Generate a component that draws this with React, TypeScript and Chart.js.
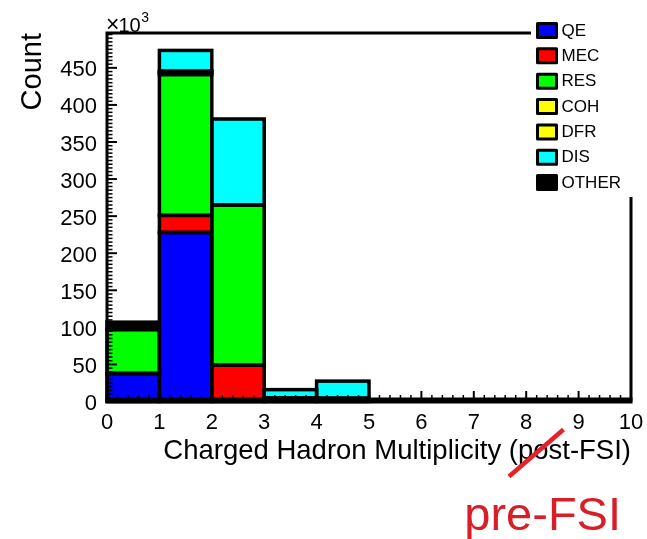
import React, { useEffect, useRef } from 'react';
import { Chart, registerables } from 'chart.js';

Chart.register(...registerables);

// ---- data (counts in units of 10^3) ----
const binCenters = [0.5, 1.5, 2.5, 3.5, 4.5, 5.5, 6.5, 7.5, 8.5, 9.5];
const seriesNames = ['QE', 'MEC', 'RES', 'COH', 'DFR', 'DIS', 'OTHER'];
const seriesColors = ['#0000ff', '#ff0000', '#00ff00', '#ffff00', '#ffff00', '#00ffff', '#000000'];
const qe = [37, 228, 1, 1, 0.5, 0, 0, 0, 0, 0];
const mec = [1, 23, 48, 0, 0, 0, 0, 0, 0, 0];
const res = [59, 190, 216, 4, 4, 0, 0, 0, 0, 0];
const coh = [0, 3, 0, 0, 0, 0, 0, 0, 0, 0];
const dfr = [0, 1.5, 0, 0, 0, 0, 0, 0, 0, 0];
const dis = [0, 28, 116, 11, 23, 0.3, 0, 0, 0, 0];
const other = [10, 0, 0, 0, 0, 0, 0, 0, 0, 0];
const seriesValues = [qe, mec, res, coh, dfr, dis, other];
const yTickValues = [0, 50, 100, 150, 200, 250, 300, 350, 400, 450];
const xTickValues = [0, 1, 2, 3, 4, 5, 6, 7, 8, 9, 10];
const yMax = 497;

const FONT = "'Liberation Sans', Arial, Helvetica, sans-serif";

const outlinePlugin = {
  id: 'rootOutline',
  afterDatasetsDraw(chart: any) {
    const ctx = chart.ctx;
    ctx.save();
    ctx.strokeStyle = '#000';
    ctx.lineWidth = 3.5;
    chart.data.datasets.forEach((_ds: any, di: number) => {
      const meta = chart.getDatasetMeta(di);
      meta.data.forEach((el: any) => {
        const p = el.getProps(['x', 'y', 'base', 'width'], true);
        const h = Math.abs(p.base - p.y);
        if (h < 0.3) return;
        ctx.strokeRect(p.x - p.width / 2, Math.min(p.y, p.base), p.width, h);
      });
    });
    ctx.restore();
  },
};

const framePlugin = {
  id: 'rootFrame',
  afterDraw(chart: any) {
    const ctx = chart.ctx;
    const { left, right, top, bottom } = chart.chartArea;
    const xs = chart.scales.x;
    const ys = chart.scales.y;
    ctx.save();
    ctx.strokeStyle = '#000';
    ctx.lineCap = 'butt';
    // frame
    ctx.lineWidth = 3;
    ctx.beginPath();
    ctx.moveTo(left, bottom);
    ctx.lineTo(left, top);
    ctx.lineTo(right, top);
    ctx.lineTo(right, bottom);
    ctx.stroke();
    ctx.lineWidth = 6;
    ctx.beginPath();
    ctx.moveTo(left - 1.5, bottom - 1);
    ctx.lineTo(right + 1.5, bottom - 1);
    ctx.stroke();
    // y ticks (inside)
    for (let v = 0; v < yMax; v += 5) {
      const py = ys.getPixelForValue(v);
      const major = v % 50 === 0;
      ctx.lineWidth = major ? 2 : 1.5;
      ctx.beginPath();
      ctx.moveTo(left, py);
      ctx.lineTo(left + (major ? 10 : 5.5), py);
      ctx.stroke();
    }
    // x ticks (inside)
    for (let i = 0; i <= 50; i++) {
      const v = i / 5;
      const px = xs.getPixelForValue(v);
      const major = i % 5 === 0;
      ctx.lineWidth = major ? 2 : 1.5;
      ctx.beginPath();
      ctx.moveTo(px, bottom);
      ctx.lineTo(px, bottom - (major ? 10.5 : 6.5));
      ctx.stroke();
    }
    // legend
    ctx.fillStyle = '#fff';
    ctx.fillRect(531, 8, 104, 189);
    chart.data.datasets.forEach((ds: any, i: number) => {
      const cy = 30.5 + 25.35 * i;
      ctx.fillStyle = ds.backgroundColor;
      ctx.strokeStyle = '#000';
      ctx.lineWidth = 3;
      ctx.lineJoin = 'round';
      ctx.beginPath();
      ctx.rect(537.5, cy - 7, 19, 14);
      ctx.fill();
      ctx.stroke();
      ctx.fillStyle = '#000';
      ctx.font = `17px ${FONT}`;
      ctx.textBaseline = 'middle';
      ctx.textAlign = 'left';
      ctx.fillText(ds.label, 561.5, cy + 0.5);
    });
    // exponent
    ctx.fillStyle = '#000';
    ctx.textBaseline = 'alphabetic';
    ctx.textAlign = 'left';
    ctx.font = `23px ${FONT}`;
    ctx.fillText('\u00d7', 106, 32);
    let ex = 106 + ctx.measureText('\u00d7').width - 1;
    ctx.font = `20px ${FONT}`;
    ctx.fillText('10', ex, 32);
    ex += ctx.measureText('10').width + 0.5;
    ctx.font = `14px ${FONT}`;
    ctx.fillText('3', ex, 22);
    // strike line and replacement label
    ctx.strokeStyle = '#e3222a';
    ctx.lineWidth = 4.5;
    ctx.lineCap = 'butt';
    ctx.beginPath();
    ctx.moveTo(509, 476.5);
    ctx.lineTo(563.5, 429.5);
    ctx.stroke();
    ctx.fillStyle = '#d81e26';
    ctx.font = `47px ${FONT}`;
    ctx.textAlign = 'right';
    ctx.fillText('pre-FSI', 621, 530);
    ctx.restore();
  },
};

export default function App() {
  const ref = useRef<HTMLCanvasElement>(null);
  useEffect(() => {
    if (!ref.current) return;
    const datasets = seriesNames.map((name, si) => ({
      label: name,
      data: binCenters.map((x, i) => ({ x, y: seriesValues[si][i] })),
      backgroundColor: seriesColors[si],
      borderWidth: 0,
      categoryPercentage: 1,
      barPercentage: 1,
    }));
    const chart = new Chart(ref.current, {
      type: 'bar',
      data: { datasets },
      plugins: [outlinePlugin, framePlugin],
      options: {
        responsive: false,
        devicePixelRatio: 1,
        animation: false,
        layout: { padding: { top: 33, right: 16, bottom: 71, left: 0 } },
        plugins: { legend: { display: false }, tooltip: { enabled: false }, title: { display: false } },
        scales: {
          x: {
            type: 'linear',
            stacked: true,
            min: 0,
            max: 10,
            offset: false,
            grid: { display: false },
            border: { display: false },
            afterBuildTicks: (s: any) => {
              s.ticks = xTickValues.map((v) => ({ value: v }));
            },
            afterFit: (s: any) => {
              s.height = 66.5;
            },
            ticks: {
              autoSkip: false,
              maxRotation: 0,
              padding: 0,
              color: '#000',
              font: { family: FONT, size: 22 },
            },
            title: {
              display: true,
              text: 'Charged Hadron Multiplicity (post-FSI)',
              align: 'end',
              color: '#000',
              padding: { top: 0, bottom: 0 },
              font: { family: FONT, size: 27.5 },
            },
          },
          y: {
            type: 'linear',
            stacked: true,
            min: 0,
            max: yMax,
            grid: { display: false },
            border: { display: false },
            afterBuildTicks: (s: any) => {
              s.ticks = yTickValues.map((v) => ({ value: v }));
            },
            afterFit: (s: any) => {
              s.width = 107;
            },
            ticks: {
              padding: 2,
              labelOffset: 2.5,
              color: '#000',
              font: { family: FONT, size: 22 },
            },
            title: {
              display: true,
              text: 'Count',
              align: 'end',
              color: '#000',
              padding: { top: 16, bottom: 0 },
              font: { family: FONT, size: 29 },
            },
          },
        },
      } as any,
    });
    return () => chart.destroy();
  }, []);
  return (
    <div style={{ position: 'absolute', left: 0, top: 0, width: 647, height: 539, background: '#fff' }}>
      <canvas ref={ref} width={647} height={539} style={{ display: 'block' }} />
    </div>
  );
}
